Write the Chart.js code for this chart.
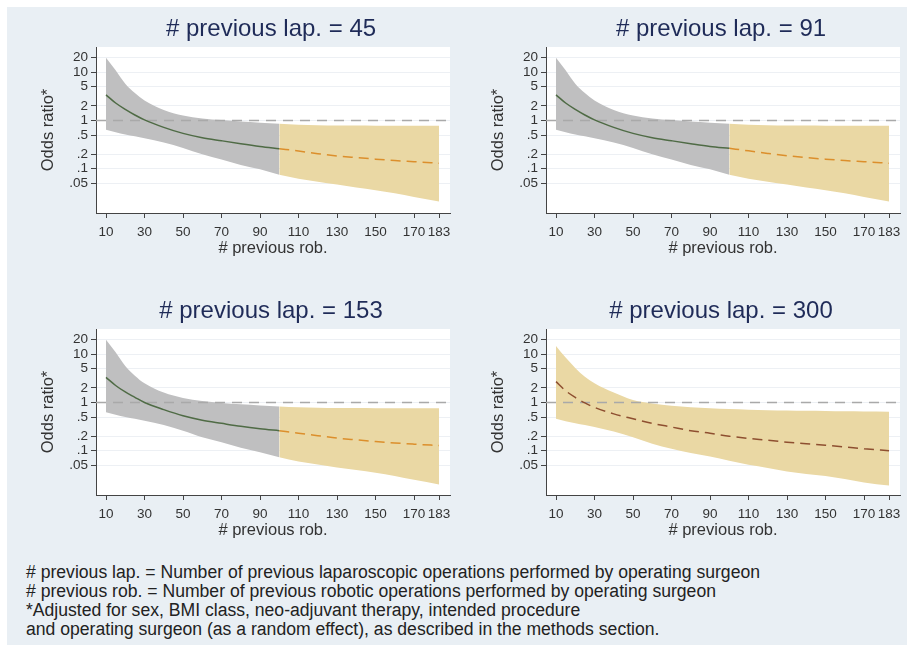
<!DOCTYPE html>
<html>
<head>
<meta charset="utf-8">
<script src="https://cdn.jsdelivr.net/npm/chart.js@4.4.1/dist/chart.umd.min.js"></script>
<style>
body { margin: 0; width: 907px; height: 645px; overflow: hidden; background: #fff; font-family: "Liberation Sans", Arial, sans-serif; }
#sheet { position: absolute; left: 7px; top: 7px; width: 900px; height: 638px; background: #e9eff4; }
canvas { position: absolute; }
#notes { position: absolute; left: 26px; top: 563px; font-size: 17.6px; line-height: 19px; color: #222; white-space: nowrap; }
</style>
</head>
<body>
<div id="sheet"></div>
<canvas id="p1" width="450" height="272" style="left:8px;top:8px"></canvas>
<canvas id="p2" width="450" height="272" style="left:458px;top:8px"></canvas>
<canvas id="p3" width="450" height="272" style="left:8px;top:290px"></canvas>
<canvas id="p4" width="450" height="272" style="left:458px;top:290px"></canvas>
<div id="notes">
# previous lap. = Number of previous laparoscopic operations performed by operating surgeon<br>
# previous rob. = Number of previous robotic operations performed by operating surgeon<br>
*Adjusted for sex, BMI class, neo-adjuvant therapy, intended procedure<br>
and operating surgeon (as a random effect), as described in the methods section.
</div>
<script>
// number of previous robotic operations (x)
const robX = [10, 15, 20, 25, 30, 40, 50, 60, 70, 80, 90, 100, 110, 120, 130, 140, 150, 160, 170, 183];
const xTicks = [10, 30, 50, 70, 90, 110, 130, 150, 170, 183];
const yTicks = [0.05, 0.1, 0.2, 0.5, 1, 2, 5, 10, 20];
const yTickLabels = ['.05', '.1', '.2', '.5', '1', '2', '5', '10', '20'];
const refOdds = 1;

const panelTitles = ['# previous lap. = 45', '# previous lap. = 91', '# previous lap. = 153', '# previous lap. = 300'];
// last observed value of # previous rob. (beyond it the curve is extrapolated)
const observedTo = [100, 100, 100, 0];

// lap = 45
const est45 = [3.4, 2.3, 1.7, 1.3, 1.03, 0.72, 0.54, 0.44, 0.38, 0.33, 0.29, 0.26, 0.233, 0.205, 0.184, 0.17, 0.158, 0.148, 0.14, 0.13];
const lo45  = [0.64, 0.57, 0.51, 0.47, 0.43, 0.35, 0.27, 0.2, 0.155, 0.12, 0.097, 0.075, 0.062, 0.054, 0.047, 0.041, 0.036, 0.031, 0.026, 0.021];
const hi45  = [20, 11, 5.8, 3.7, 2.6, 1.65, 1.27, 1.1, 1.02, 0.95, 0.9, 0.86, 0.82, 0.8, 0.79, 0.785, 0.78, 0.78, 0.78, 0.78];
// lap = 91
const est91 = [3.4, 2.3, 1.7, 1.3, 1.03, 0.72, 0.54, 0.44, 0.38, 0.33, 0.29, 0.265, 0.235, 0.208, 0.186, 0.17, 0.158, 0.148, 0.14, 0.13];
const lo91  = [0.64, 0.57, 0.51, 0.47, 0.43, 0.35, 0.27, 0.2, 0.155, 0.12, 0.097, 0.075, 0.062, 0.054, 0.047, 0.041, 0.036, 0.031, 0.026, 0.021];
const hi91  = [20, 11, 5.8, 3.7, 2.6, 1.65, 1.27, 1.1, 1.02, 0.95, 0.9, 0.86, 0.82, 0.8, 0.79, 0.785, 0.78, 0.78, 0.78, 0.78];
// lap = 153
const est153 = [3.3, 2.25, 1.65, 1.28, 1.0, 0.71, 0.53, 0.43, 0.37, 0.32, 0.285, 0.26, 0.23, 0.205, 0.183, 0.168, 0.155, 0.145, 0.137, 0.128];
const lo153  = [0.63, 0.56, 0.5, 0.46, 0.42, 0.34, 0.26, 0.19, 0.15, 0.115, 0.093, 0.073, 0.06, 0.052, 0.045, 0.04, 0.035, 0.03, 0.025, 0.02];
const hi153  = [20, 11, 5.7, 3.6, 2.5, 1.6, 1.24, 1.07, 0.98, 0.92, 0.87, 0.83, 0.8, 0.78, 0.77, 0.765, 0.76, 0.76, 0.76, 0.76];
// lap = 300
const est300 = [2.7, 1.75, 1.27, 0.98, 0.79, 0.58, 0.46, 0.37, 0.31, 0.26, 0.23, 0.2, 0.18, 0.165, 0.15, 0.14, 0.13, 0.12, 0.11, 0.1];
const lo300  = [0.46, 0.41, 0.37, 0.34, 0.31, 0.25, 0.19, 0.14, 0.11, 0.09, 0.076, 0.062, 0.051, 0.044, 0.037, 0.033, 0.03, 0.026, 0.022, 0.019];
const hi300  = [14.8, 8.5, 5.2, 3.4, 2.5, 1.6, 1.12, 0.95, 0.86, 0.8, 0.76, 0.73, 0.71, 0.69, 0.68, 0.67, 0.665, 0.655, 0.65, 0.645];

const X_MIN = 4.8, X_MAX = 188.7;
const Y_MIN = 0.0121, Y_MAX = 33.3;

const FONT = '"Liberation Sans", Arial, sans-serif';
Chart.defaults.font.family = FONT;

// white plot region + panel title
const panelDecor = {
    id: 'panelDecor',
    beforeDraw(chart) {
        const a = chart.chartArea, ctx = chart.ctx;
        ctx.save();
        ctx.fillStyle = '#ffffff';
        ctx.fillRect(a.left, a.top, a.right - a.left, a.bottom - a.top);
        ctx.restore();
    },
    afterDraw(chart, args, opts) {
        const a = chart.chartArea, ctx = chart.ctx;
        ctx.save();
        ctx.font = '24px ' + FONT;
        ctx.fillStyle = '#1f2b58';
        ctx.textAlign = 'center';
        ctx.textBaseline = 'alphabetic';
        ctx.fillText(opts.text, (a.left + a.right) / 2 - 2, 28);
        ctx.restore();
    }
};

function pts(ys, keep) {
    return robX.map((x, i) => ({ x: x, y: ys[i] })).filter(p => keep(p.x));
}

function drawPanel(id, title, est, lo, hi, lastObs) {
    const obs = x => x <= lastObs;
    const ext = x => x >= lastObs;
    const line = { pointRadius: 0, borderWidth: 1.5, cubicInterpolationMode: 'monotone', fill: false };
    const edge = { pointRadius: 0, borderWidth: 0, cubicInterpolationMode: 'monotone' };

    new Chart(document.getElementById(id), {
        type: 'line',
        data: {
            datasets: [
                Object.assign({ data: pts(est, obs), borderColor: '#4f6b45', order: 0 }, line),
                Object.assign({ data: pts(est, ext), borderColor: lastObs > 0 ? '#dc8f2c' : '#8e4f30', borderDash: [10, 6], order: 0 }, line),
                { data: [{ x: X_MIN, y: refOdds }, { x: X_MAX, y: refOdds }], borderColor: '#a9a9a9', borderWidth: 1.5, borderDash: [10, 7], pointRadius: 0, fill: false, order: 1 },
                Object.assign({ data: pts(lo, obs), fill: false, order: 2 }, edge),
                Object.assign({ data: pts(hi, obs), fill: 3, backgroundColor: '#bfbfc0', order: 2 }, edge),
                Object.assign({ data: pts(lo, ext), fill: false, order: 2 }, edge),
                Object.assign({ data: pts(hi, ext), fill: 5, backgroundColor: '#ead8a4', order: 2 }, edge)
            ]
        },
        options: {
            responsive: false,
            animation: false,
            layout: { padding: { top: 39, right: 8, left: 0, bottom: 0 } },
            plugins: {
                legend: { display: false },
                tooltip: { enabled: false },
                panelDecor: { text: title }
            },
            scales: {
                x: {
                    type: 'linear', min: X_MIN, max: X_MAX,
                    afterBuildTicks: s => { s.ticks = xTicks.map(v => ({ value: v })); },
                    afterFit: s => { s.height = 67; },
                    grid: { drawOnChartArea: false, tickLength: 5, tickColor: '#444' },
                    border: { color: '#444', width: 1 },
                    ticks: { color: '#333', font: { size: 13.5 }, padding: 6, maxRotation: 0, autoSkip: false },
                    title: { display: true, text: '# previous rob.', color: '#333', font: { size: 16.5 }, padding: { top: 0, bottom: 22 } }
                },
                y: {
                    type: 'logarithmic', min: Y_MIN, max: Y_MAX,
                    afterBuildTicks: s => { s.ticks = yTicks.map(v => ({ value: v })); },
                    afterFit: s => { s.width = 88; },
                    grid: { color: '#edf0f4', tickLength: 5, tickColor: '#444' },
                    border: { color: '#444', width: 1 },
                    ticks: { color: '#333', font: { size: 13.5 }, padding: 3, autoSkip: false,
                             callback: v => yTickLabels[yTicks.indexOf(v)] },
                    title: { display: true, text: 'Odds ratio*', color: '#333', font: { size: 16.5 }, padding: { top: 31, bottom: 0 } }
                }
            }
        },
        plugins: [panelDecor]
    });
}

drawPanel('p1', panelTitles[0], est45, lo45, hi45, observedTo[0]);
drawPanel('p2', panelTitles[1], est91, lo91, hi91, observedTo[1]);
drawPanel('p3', panelTitles[2], est153, lo153, hi153, observedTo[2]);
drawPanel('p4', panelTitles[3], est300, lo300, hi300, observedTo[3]);
</script>
</body>
</html>
